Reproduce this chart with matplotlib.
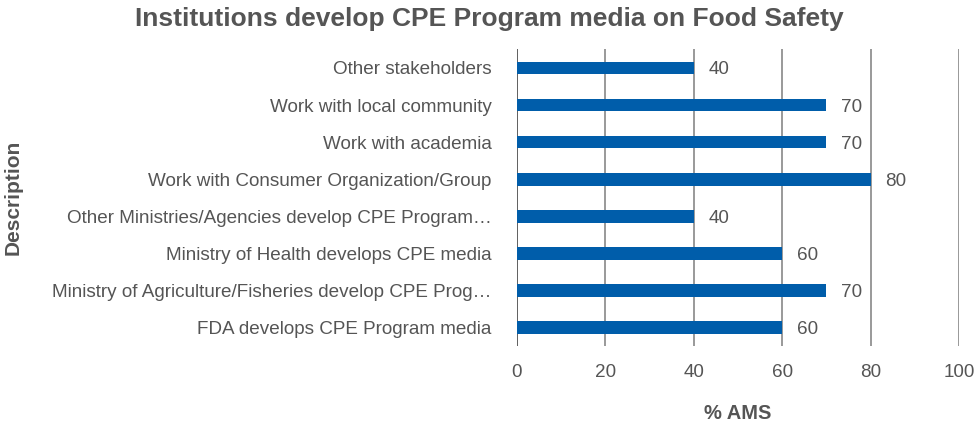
import matplotlib
matplotlib.use("Agg")
import matplotlib.pyplot as plt

categories = [
    "Other stakeholders",
    "Work with local community",
    "Work with academia",
    "Work with Consumer Organization/Group",
    "Other Ministries/Agencies develop CPE Program\u2026",
    "Ministry of Health develops CPE media",
    "Ministry of Agriculture/Fisheries develop CPE Prog\u2026",
    "FDA develops CPE Program media",
]
values = [40, 70, 70, 80, 40, 60, 70, 60]
xticks = [0, 20, 40, 60, 80, 100]

plt.rcParams['font.family'] = ['Liberation Sans', 'DejaVu Sans']
fig = plt.figure(figsize=(9.75, 4.23), dpi=100)
ax = fig.add_axes([0.530, 0.183, 0.4536, 0.700])

ypos = list(range(len(categories)))
ax.barh(ypos, values, height=0.35, color="#005DAA", zorder=3)
ax.set_ylim(len(categories) - 0.5, -0.5)
ax.set_xlim(0, 100)
ax.set_yticks(ypos)
ax.set_yticklabels(categories, va='center_baseline')
ax.set_xticks(xticks)
ax.tick_params(axis='both', length=0, colors="#555555", labelsize=13.6)
ax.tick_params(axis='x', pad=13)
ax.tick_params(axis='y', pad=18)
for x in xticks:
    ax.axvline(x, color="#444444" if x == 0 else "#888888", lw=1.2, zorder=1)
for s in ax.spines.values():
    s.set_visible(False)

for y, v in zip(ypos, values):
    ax.text(v + 3.3, y, str(v), va='center_baseline', ha='left', fontsize=13.6, color="#555555")

ax.set_xlabel("% AMS", fontsize=14.5, fontweight='bold', color="#555555", labelpad=17)
fig.text(0.013, 0.534, "Description", rotation=90, va='center', ha='center',
         fontsize=15, fontweight='bold', color="#555555")
fig.text(0.502, 0.955, "Institutions develop CPE Program media on Food Safety",
         ha='center', va='center', fontsize=19, fontweight='bold', color="#555555")

fig.savefig("out.png", dpi=100)
